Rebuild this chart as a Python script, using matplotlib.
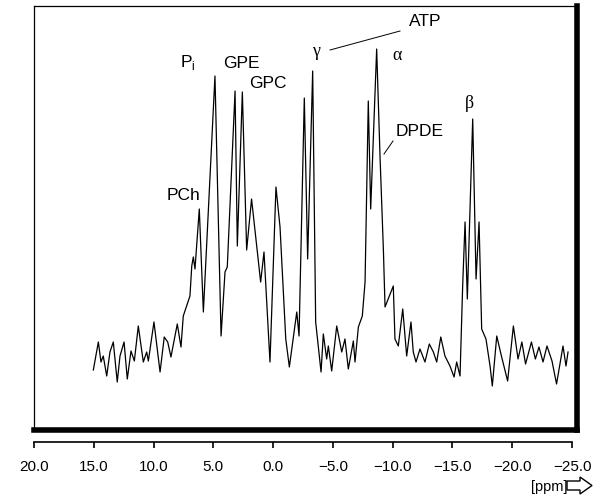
import matplotlib
matplotlib.use("Agg")
import matplotlib.pyplot as plt
from matplotlib.patches import Polygon
from matplotlib.lines import Line2D

plt.rcParams['font.family'] = ['Liberation Sans', 'DejaVu Sans']

# 31P spectrum, chemical shift (ppm) and intensity (arbitrary units)
ppm = [15.04, 14.62, 14.40, 14.21, 13.92, 13.65, 13.37, 13.04, 12.81, 12.47,
       12.20, 11.89, 11.61, 11.28, 10.86, 10.58, 10.44, 9.97, 9.46, 9.11,
       8.82, 8.55, 8.02, 7.71, 7.52, 6.96, 6.81, 6.68, 6.54, 6.18,
       5.84, 4.87, 4.36, 4.03, 3.84, 3.19, 3.00, 2.58, 2.22, 1.81,
       1.38, 1.05, 0.77, 0.27, -0.23, -0.57, -1.05, -1.35, -1.97, -2.16,
       -2.60, -2.88, -3.30, -3.55, -4.00, -4.19, -4.47, -4.61, -4.89, -5.31,
       -5.73, -6.00, -6.28, -6.70, -6.84, -7.12, -7.45, -7.68, -7.95, -8.15,
       -8.65, -8.93, -9.21, -9.35, -10.04, -10.18, -10.46, -10.83, -11.16, -11.52,
       -11.71, -11.94, -12.27, -12.69, -13.05, -13.39, -13.67, -14.01, -14.36, -14.78,
       -15.12, -15.34, -15.62, -15.84, -16.04, -16.23, -16.68, -16.96, -17.21, -17.43,
       -17.79, -18.13, -18.32, -18.69, -19.08, -19.60, -20.08, -20.47, -20.79, -21.10,
       -21.59, -21.92, -22.22, -22.56, -22.89, -23.31, -23.69, -24.23, -24.48, -24.65]
intensity = [60, 88, 68, 74, 54, 78, 88, 48, 74, 88,
             51, 79, 69, 104, 68, 78, 69, 108, 58, 93,
             88, 73, 106, 83, 114, 134, 164, 173, 161, 221,
             118, 354, 94, 158, 163, 339, 184, 338, 180, 231,
             184, 148, 178, 68, 243, 203, 91, 63, 118, 94,
             332, 171, 359, 108, 58, 96, 71, 84, 59, 104,
             78, 91, 61, 89, 68, 103, 114, 148, 329, 221,
             381, 274, 181, 123, 144, 91, 84, 121, 74, 108,
             78, 68, 81, 68, 86, 78, 68, 93, 74, 64,
             53, 68, 54, 144, 208, 131, 311, 151, 208, 101,
             91, 64, 44, 94, 74, 49, 104, 71, 88, 66,
             88, 71, 83, 68, 84, 69, 46, 84, 64, 78]

tick_values = [20, 15, 10, 5, 0, -5, -10, -15, -20, -25]
tick_labels = ['20.0', '15.0', '10.0', '5.0', '0.0', '\u22125.0', '\u221210.0',
               '\u221215.0', '\u221220.0', '\u221225.0']

W, H = 603, 502
fig = plt.figure(figsize=(W / 100, H / 100), dpi=100)


def px(x, y):
    return x / W, 1 - y / H


# framed spectrum box
ax = fig.add_axes([34 / W, 1 - 431 / H, 543 / W, 424 / H])
ax.plot(ppm, intensity, color='black', lw=0.9)
ax.set_xlim(20.0, -25.4)
ax.set_ylim(0, 424)
ax.set_xticks([])
ax.set_yticks([])
ax.spines['left'].set_linewidth(0.9)
ax.spines['top'].set_linewidth(0.9)
ax.spines['bottom'].set_linewidth(4.0)
ax.spines['right'].set_linewidth(4.0)

# separate scale below the box
sx = fig.add_axes([34 / W, 1 - 443 / H, 538 / W, 0.0001])
sx.set_xlim(20, -25)
for s in ['left', 'right', 'top']:
    sx.spines[s].set_visible(False)
sx.spines['bottom'].set_linewidth(1.2)
sx.set_yticks([])
sx.set_xticks(tick_values)
sx.set_xticklabels(tick_labels, fontsize=11)
sx.tick_params(axis='x', direction='out', length=4, width=1.2, pad=8)
sx.patch.set_visible(False)

# peak labels
sans = dict(fontsize=12.5, ha='center', va='center', transform=fig.transFigure)
serif = dict(fontsize=13, ha='center', va='center', transform=fig.transFigure,
             family='Liberation Serif')
fig.text(*px(188, 63), r'P$_\mathregular{i}$', **sans)
fig.text(*px(241, 63), 'GPE', **sans)
fig.text(*px(268, 84), 'GPC', **sans)
fig.text(*px(183, 196), 'PCh', **sans)
fig.text(*px(425, 22), 'ATP', **sans)
fig.text(*px(420, 131), 'DPDE', **sans)
fig.text(*px(316, 52), '\u03b3', **serif)
fig.text(*px(397, 56), '\u03b1', **serif)
fig.text(*px(469, 103), '\u03b2', **serif)

# leader lines
for (x0, y0), (x1, y1) in [((330, 51), (400, 32)), ((393, 142), (384, 155))]:
    a, b = px(x0, y0)
    c, d = px(x1, y1)
    fig.add_artist(Line2D([a, c], [b, d], color='black', lw=0.7))

# axis unit with outlined arrow
fig.text(*px(549, 487), '[ppm]', fontsize=10.5, ha='center', va='center')
arrow = [px(567, 482), px(580, 482), px(580, 478), px(592, 486.5),
         px(580, 495), px(580, 491), px(567, 491)]
fig.add_artist(Polygon(arrow, closed=True, fill=False, lw=1.0,
                       edgecolor='black', transform=fig.transFigure))

fig.savefig('out.png', dpi=100)
